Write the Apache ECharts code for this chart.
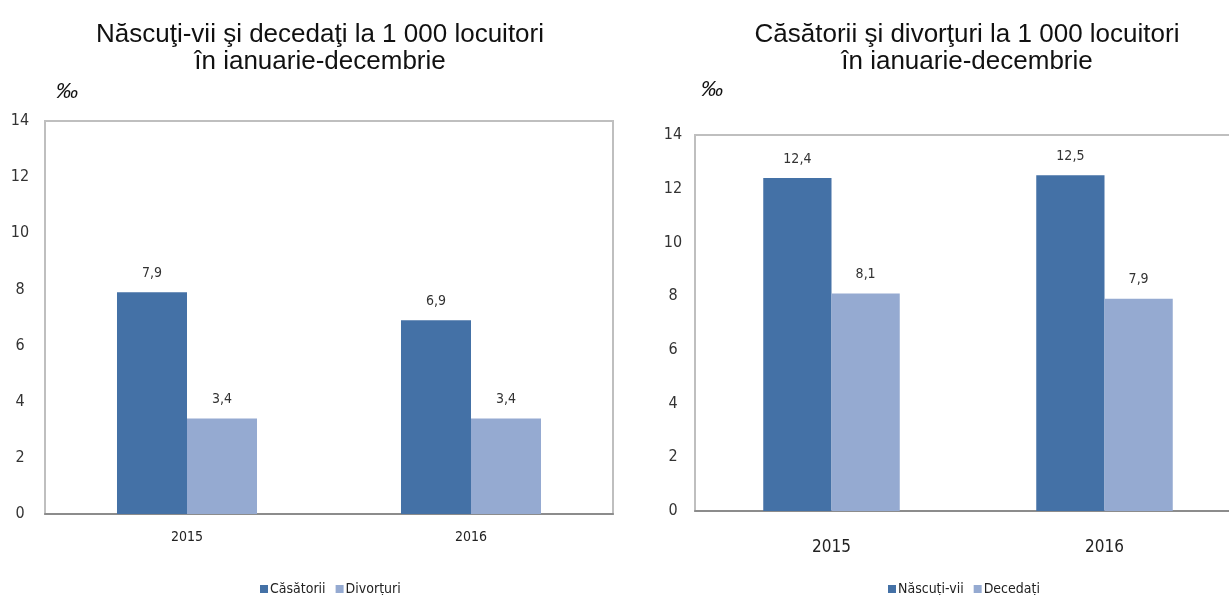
<!DOCTYPE html>
<html>
<head>
<meta charset="utf-8">
<script src="https://cdn.jsdelivr.net/npm/echarts@6/dist/echarts.min.js"></script>
<style>
html,body{margin:0;padding:0;background:#fff;overflow:hidden;}
#c{width:1250px;height:595px;}
</style>
</head>
<body>
<div id="c"></div>
<script>
// ---- data ----
const categories = ['2015', '2016'];
const leftTitle = 'Născuţi-vii şi decedaţi la 1 000 locuitori\nîn ianuarie-decembrie';
const rightTitle = 'Căsătorii şi divorţuri la 1 000 locuitori\nîn ianuarie-decembrie';
const leftNames = ['Căsătorii', 'Divorțuri'];
const leftValuesA = [7.9, 6.9];
const leftValuesB = [3.4, 3.4];
const rightNames = ['Născuți-vii', 'Decedați'];
const rightValuesA = [12.4, 12.5];
const rightValuesB = [8.1, 7.9];
const unitLabel = '‰';
const yMin = 0, yMax = 14, yStep = 2;

// ---- styling ----
const DARK = '#4471A6';
const LIGHT = '#95AAD1';
const NARROW = "'Liberation Sans Narrow', 'DejaVu Sans Condensed', 'Liberation Sans', sans-serif";
const SANS = "'Liberation Sans', Arial, sans-serif";
const fmt = v => String(v.value !== undefined ? v.value : v).replace('.', ',');

function yAxis(gridIndex, margin) {
  return {
    type: 'value', gridIndex, min: yMin, max: yMax, interval: yStep,
    axisLine: { show: false }, axisTick: { show: false }, splitLine: { show: false },
    axisLabel: { color: '#333', fontFamily: NARROW, fontSize: 16, align: 'center', margin }
  };
}
function xAxis(gridIndex, fontSize, margin) {
  return {
    type: 'category', gridIndex, data: categories,
    axisLine: { show: true, lineStyle: { color: '#8c8c8c', width: 2 } },
    axisTick: { show: false },
    axisLabel: { color: '#222', fontFamily: NARROW, fontSize, margin }
  };
}
function bar(name, data, color, xi, gap) {
  return {
    type: 'bar', name, data, xAxisIndex: xi, yAxisIndex: xi,
    barGap: '0%', barCategoryGap: gap,
    itemStyle: { color },
    label: { show: true, position: 'top', distance: 12, formatter: fmt,
             color: '#333', fontFamily: NARROW, fontSize: 14 }
  };
}

const chart = echarts.init(document.getElementById('c'), null, { renderer: 'canvas' });
chart.setOption({
  backgroundColor: '#fff',
  animation: false,
  title: [
    { text: leftTitle, left: 315, top: 16, textAlign: 'center',
      textStyle: { fontFamily: SANS, fontSize: 26, fontWeight: 'normal', color: '#111', lineHeight: 27, align: 'center' } },
    { text: rightTitle, left: 962, top: 16, textAlign: 'center',
      textStyle: { fontFamily: SANS, fontSize: 26, fontWeight: 'normal', color: '#111', lineHeight: 27, align: 'center' } },
    { text: unitLabel, left: 51, top: 76,
      textStyle: { fontFamily: SANS, fontSize: 22, fontStyle: 'italic', fontWeight: 'normal', color: '#111' } },
    { text: unitLabel, left: 696, top: 74,
      textStyle: { fontFamily: SANS, fontSize: 22, fontStyle: 'italic', fontWeight: 'normal', color: '#111' } }
  ],
  legend: [
    { data: leftNames, left: 255, top: 577, itemWidth: 8, itemHeight: 8, itemGap: 10,
      icon: 'rect', textStyle: { fontFamily: NARROW, fontSize: 14, color: '#222', padding: [0, 0, 0, -3] } },
    { data: rightNames, left: 883, top: 577, itemWidth: 8, itemHeight: 8, itemGap: 10,
      icon: 'rect', textStyle: { fontFamily: NARROW, fontSize: 14, color: '#222', padding: [0, 0, 0, -3] } }
  ],
  grid: [
    { left: 45, top: 121, width: 568, height: 393, show: true, borderColor: '#bfbfbf', borderWidth: 2, backgroundColor: 'transparent' },
    { left: 695, top: 135, width: 546, height: 376, show: true, borderColor: '#bfbfbf', borderWidth: 2, backgroundColor: 'transparent' }
  ],
  xAxis: [xAxis(0, 14, 16), xAxis(1, 17, 28)],
  yAxis: [yAxis(0, 25), yAxis(1, 22)],
  series: [
    bar(leftNames[0], leftValuesA, DARK, 0, '50.7%'),
    bar(leftNames[1], leftValuesB, LIGHT, 0, '50.7%'),
    bar(rightNames[0], rightValuesA, DARK, 1, '50%'),
    bar(rightNames[1], rightValuesB, LIGHT, 1, '50%')
  ]
});
</script>
</body>
</html>
